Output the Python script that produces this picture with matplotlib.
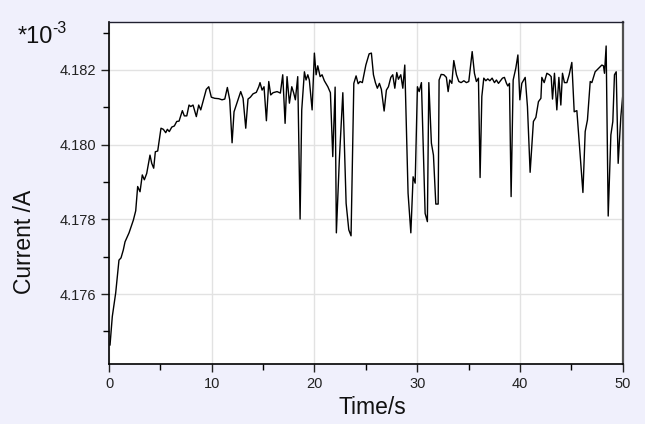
# Current vs time trace, values shown in units of 1e-3 A

import numpy as np
import matplotlib.pyplot as plt
from matplotlib.ticker import MultipleLocator, FormatStrFormatter

plt.rcParams['font.family'] = ['Liberation Sans', 'DejaVu Sans']

# time (s) and current (x1e-3 A)
time_s = [
    0.10, 0.32, 0.65, 0.97, 1.17, 1.39, 1.56, 1.95, 2.37, 2.60, 2.79, 3.02, 3.24, 3.44, 3.67,
    3.99, 4.16, 4.35, 4.51, 4.74, 5.06, 5.29, 5.52, 5.68, 5.87, 6.11, 6.36, 6.59, 6.82, 7.14,
    7.33, 7.57, 7.79, 7.96, 8.18, 8.50, 8.73, 8.93, 9.15, 9.47, 9.71, 9.96, 10.29, 10.68, 11.00,
    11.27, 11.52, 11.75, 11.98, 12.17, 12.49, 12.82, 13.05, 13.31, 13.53, 13.76, 14.02, 14.34,
    14.58, 14.70, 14.90, 15.09, 15.32, 15.55, 15.74, 15.97, 16.36, 16.68, 16.91, 17.14, 17.33,
    17.56, 17.79, 17.98, 18.14, 18.37, 18.60, 18.76, 19.02, 19.18, 19.35, 19.50, 19.77, 19.99,
    20.16, 20.32, 20.55, 20.74, 20.96, 21.30, 21.55, 21.78, 22.01, 22.13, 22.42, 22.76, 23.08,
    23.34, 23.56, 23.83, 24.05, 24.25, 24.44, 24.66, 25.00, 25.32, 25.54, 25.74, 25.93, 26.12,
    26.32, 26.51, 26.78, 27.00, 27.20, 27.43, 27.62, 27.82, 28.01, 28.17, 28.40, 28.60, 28.79,
    29.11, 29.38, 29.60, 29.80, 30.02, 30.19, 30.41, 30.77, 30.99, 31.13, 31.38, 31.58, 31.81,
    32.04, 32.13, 32.33, 32.59, 32.84, 33.01, 33.17, 33.37, 33.56, 33.82, 34.05, 34.27, 34.54,
    34.79, 35.02, 35.18, 35.35, 35.57, 35.76, 35.96, 36.12, 36.29, 36.48, 36.68, 36.87, 37.07,
    37.29, 37.52, 37.71, 37.91, 38.10, 38.30, 38.49, 38.69, 38.82, 38.98, 39.14, 39.34, 39.60,
    39.80, 39.99, 40.18, 40.51, 40.73, 40.99, 41.31, 41.55, 41.80, 42.04, 42.13, 42.36, 42.62,
    42.87, 43.04, 43.17, 43.36, 43.59, 43.79, 43.98, 44.14, 44.33, 44.57, 44.79, 45.05, 45.28,
    45.54, 46.13, 46.35, 46.57, 46.84, 47.00, 47.32, 47.64, 47.97, 48.13, 48.23, 48.39, 48.59,
    48.85, 49.04, 49.20, 49.37, 49.56, 49.82, 50.00,
]
current = [
    4.17464, 4.17540, 4.17603, 4.17691, 4.17697, 4.17718, 4.17740, 4.17764, 4.17798, 4.17823,
    4.17888, 4.17874, 4.17919, 4.17906, 4.17923, 4.17972, 4.17950, 4.17937, 4.17981, 4.17983,
    4.18044, 4.18041, 4.18032, 4.18041, 4.18035, 4.18047, 4.18050, 4.18062, 4.18063, 4.18091,
    4.18077, 4.18077, 4.18106, 4.18102, 4.18106, 4.18075, 4.18106, 4.18093, 4.18115, 4.18148,
    4.18155, 4.18127, 4.18124, 4.18123, 4.18120, 4.18122, 4.18153, 4.18120, 4.18005, 4.18088,
    4.18115, 4.18142, 4.18124, 4.18044, 4.18122, 4.18127, 4.18136, 4.18140, 4.18155, 4.18166,
    4.18146, 4.18155, 4.18064, 4.18169, 4.18133, 4.18139, 4.18142, 4.18138, 4.18187, 4.18057,
    4.18182, 4.18111, 4.18155, 4.18138, 4.18120, 4.18182, 4.17801, 4.18093, 4.18195, 4.18173,
    4.18187, 4.18173, 4.18093, 4.18245, 4.18187, 4.18211, 4.18182, 4.18187, 4.18171, 4.18155,
    4.18139, 4.17968, 4.18154, 4.17764, 4.17959, 4.18139, 4.17843, 4.17772, 4.17756, 4.18164,
    4.18184, 4.18163, 4.18169, 4.18166, 4.18213, 4.18243, 4.18245, 4.18187, 4.18166, 4.18151,
    4.18164, 4.18148, 4.18090, 4.18146, 4.18155, 4.18180, 4.18187, 4.18151, 4.18193, 4.18175,
    4.18187, 4.18151, 4.18213, 4.17870, 4.17764, 4.17914, 4.17897, 4.18155, 4.18142, 4.18166,
    4.17816, 4.17794, 4.18166, 4.18004, 4.17972, 4.17841, 4.17841, 4.18173, 4.18188, 4.18187,
    4.18180, 4.18142, 4.18173, 4.18164, 4.18225, 4.18187, 4.18169, 4.18166, 4.18171, 4.18166,
    4.18169, 4.18209, 4.18249, 4.18191, 4.18169, 4.18178, 4.17912, 4.18129, 4.18178, 4.18171,
    4.18176, 4.18171, 4.18178, 4.18166, 4.18173, 4.18164, 4.18171, 4.18178, 4.18180, 4.18164,
    4.18157, 4.18164, 4.17861, 4.18173, 4.18205, 4.18240, 4.18120, 4.18164, 4.18180, 4.18102,
    4.17926, 4.18062, 4.18073, 4.18115, 4.18124, 4.18180, 4.18166, 4.18191, 4.18187, 4.18182,
    4.18122, 4.18191, 4.18093, 4.18180, 4.18106, 4.18191, 4.18166, 4.18166, 4.18187, 4.18220,
    4.18088, 4.18091, 4.17872, 4.18035, 4.18066, 4.18169, 4.18166, 4.18195, 4.18204, 4.18213,
    4.18211, 4.18191, 4.18264, 4.17809, 4.18026, 4.18062, 4.18187, 4.18195, 4.17950, 4.18075,
    4.18129,
]

bg = '#f0f0fc'
fig = plt.figure(figsize=(6.45, 4.24), dpi=100, facecolor=bg)
ax = fig.add_axes([0.169, 0.1415, 0.7964, 0.8073])
ax.set_facecolor('white')

ax.plot(time_s, current, color='black', linewidth=1.0)

ax.set_xlim(0, 50)
ax.set_ylim(4.17413, 4.18329)

ax.xaxis.set_major_locator(MultipleLocator(10))
ax.xaxis.set_minor_locator(MultipleLocator(5))
ax.yaxis.set_major_locator(MultipleLocator(0.002))
ax.yaxis.set_minor_locator(MultipleLocator(0.001))
ax.yaxis.set_major_formatter(FormatStrFormatter('%.3f'))

ax.grid(True, which='major', color='#e2e2e2', linewidth=1)
ax.set_axisbelow(True)

ax.tick_params(which='major', direction='out', length=6, width=1, labelsize=10.5,
               colors='#222222', top=False, right=False)
ax.tick_params(which='minor', direction='out', length=4, width=1, top=False, right=False)

for side in ['left', 'bottom']:
    ax.spines[side].set_color('black')
    ax.spines[side].set_linewidth(1.2)
ax.spines['top'].set_color('#202030')
ax.spines['top'].set_linewidth(1)
ax.spines['right'].set_color('#505050')
ax.spines['right'].set_linewidth(1.6)

fig.text(25 / 645, 1 - 242 / 424, 'Current /A', rotation=90, ha='center', va='center',
         fontsize=16.5, color='#111111')
fig.text(372 / 645, 1 - 408 / 424, 'Time/s', ha='center', va='center',
         fontsize=16.5, color='#111111')
fig.text(18 / 645, 1 - 43 / 424, '*10', ha='left', va='baseline',
         fontsize=17, color='#111111')
fig.text(52 / 645, 1 - 33 / 424, '-3', ha='left', va='baseline',
         fontsize=11.5, color='#111111')

fig.savefig('out.png', dpi=100, facecolor=bg)
